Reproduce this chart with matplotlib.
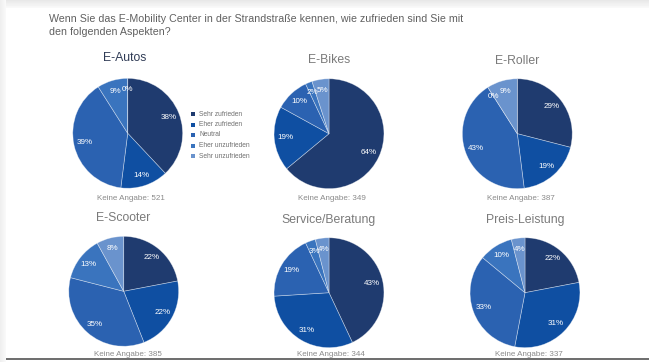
import matplotlib
matplotlib.use("Agg")
import matplotlib.pyplot as plt
import numpy as np
from matplotlib.patches import Rectangle

plt.rcParams['font.family'] = ['Liberation Sans', 'DejaVu Sans']

W, H = 649, 362

frage = ("Wenn Sie das E-Mobility Center in der Strandstraße kennen, wie zufrieden sind Sie mit\n"
         "den folgenden Aspekten?")
antworten = ["Sehr zufrieden", "Eher zufrieden", "Neutral", "Eher unzufrieden", "Sehr unzufrieden"]
farben = ["#1f3b6f", "#0f4fa2", "#2b62b1", "#3a74be", "#6a93cd"]

titel = ["E-Autos", "E-Bikes", "E-Roller", "E-Scooter", "Service/Beratung", "Preis-Leistung"]
e_autos = [38, 14, 39, 9, 0]
e_bikes = [64, 19, 10, 2, 5]
e_roller = [29, 19, 43, 0, 9]
e_scooter = [22, 22, 35, 13, 8]
service = [43, 31, 19, 3, 4]
preis = [22, 31, 33, 10, 4]
keine_angabe = [521, 349, 387, 385, 344, 337]
werte = [e_autos, e_bikes, e_roller, e_scooter, service, preis]

# pixel layout: pie centre, title centre, note centre
mitten = [(127.7, 133.3), (329, 133.7), (517.3, 133.7), (123.7, 291.3), (329, 292.7), (525, 292.7)]
titel_pos = [(124.3, 58.3), (328.8, 60), (517.2, 60.7), (123.3, 217.7), (328.8, 220), (525, 220)]
notiz_pos = [(130.5, 199), (331.8, 199), (521.2, 198.7), (128, 354), (331, 354), (528.8, 354)]
R = 55.5

fig = plt.figure(figsize=(W / 100, H / 100), dpi=100)
bg = fig.add_axes([0, 0, 1, 1])
bg.set_xlim(0, W)
bg.set_ylim(H, 0)
bg.axis("off")

# soft card shadow
grad = np.linspace(0.91, 0.975, 8).reshape(-1, 1)
bg.imshow(np.repeat(grad, 2, axis=1), cmap="gray", vmin=0, vmax=1, extent=(0, W, 8, 0), aspect="auto")
gradx = np.linspace(0.935, 0.975, 6).reshape(1, -1)
bg.imshow(np.repeat(gradx, 2, axis=0), cmap="gray", vmin=0, vmax=1, extent=(0, 6, H, 0), aspect="auto")
bg.add_patch(Rectangle((6, 8), W - 6, 350, facecolor="white", edgecolor="none"))
bg.add_patch(Rectangle((6, 358), W - 6, 1.6, facecolor="#707070", edgecolor="none"))
bg.set_xlim(0, W)
bg.set_ylim(H, 0)

bg.text(49, 25.5, frage, fontsize=7.7, color="#606060", va="center", ha="left", linespacing=1.4)

for i, vals in enumerate(werte):
    cx, cy = mitten[i]
    ax = fig.add_axes([(cx - R) / W, 1 - (cy + R) / H, 2 * R / W, 2 * R / H])
    wedges, texts, autotexts = ax.pie(
        vals, colors=farben, startangle=90, counterclock=False, radius=1,
        autopct=lambda p: "%d%%" % round(p), pctdistance=0.8,
        wedgeprops=dict(edgecolor=(1, 1, 1, 0.45), linewidth=0.5),
        textprops=dict(color="white", fontsize=5.8))
    ax.set_xlim(-1.01, 1.01)
    ax.set_ylim(-1.01, 1.01)
    tx, ty = titel_pos[i]
    tcol = "#2f3b55" if i == 0 else "#7a7a7a"
    bg.text(tx, ty, titel[i], fontsize=8.8, color=tcol, ha="center", va="center")
    nx, ny = notiz_pos[i]
    bg.text(nx, ny, "Keine Angabe: %d" % keine_angabe[i], fontsize=5.8, color="#8a8a8a",
            ha="center", va="center")

# legend next to the first pie
for k, name in enumerate(antworten):
    y = 114 + k * 10.5
    bg.add_patch(Rectangle((191, y - 2), 4, 4, facecolor=farben[k], edgecolor="none"))
    bg.text(199.3, y, name, fontsize=4.8, color="#707070", ha="left", va="center")

fig.savefig("out.png", dpi=100)
